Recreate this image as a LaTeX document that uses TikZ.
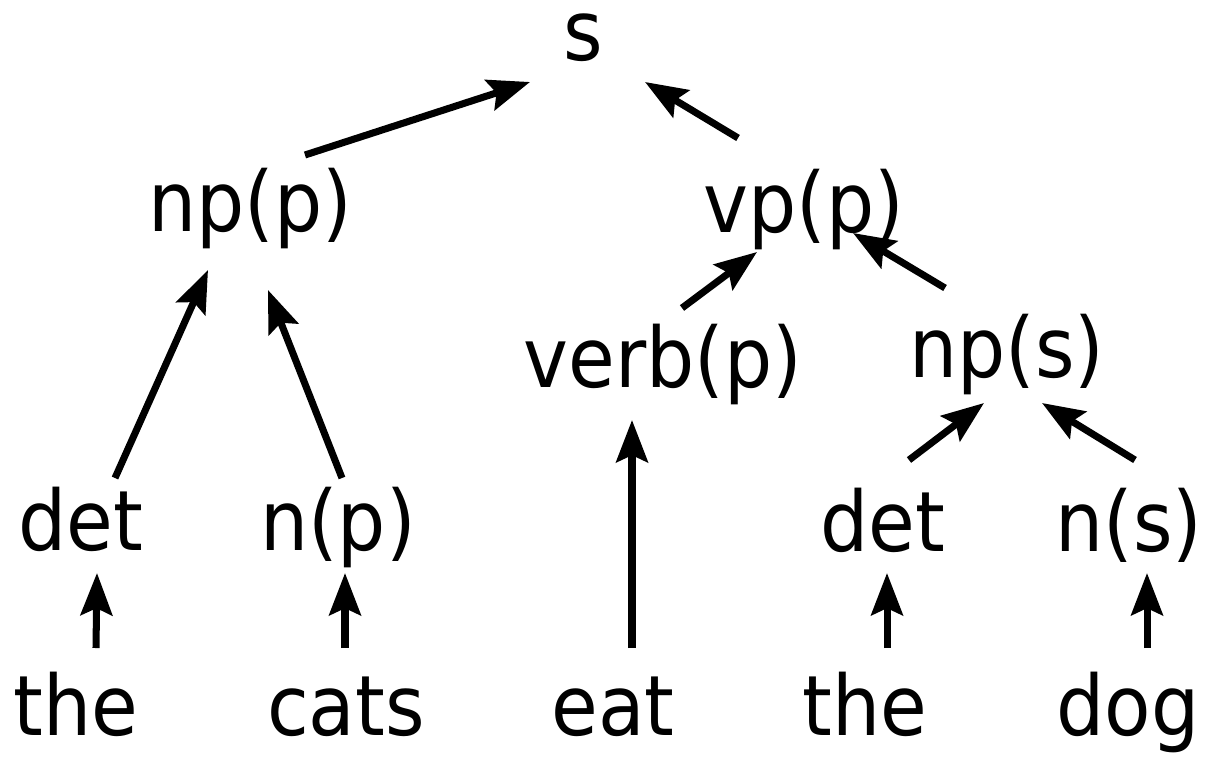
\documentclass[tikz,border=0pt]{standalone}
\usepackage{fontspec}
\setmainfont{DejaVu Sans}[FakeStretch=0.91]
\usetikzlibrary{arrows.meta,calc}

\tikzset{
  word/.style={inner sep=0pt, anchor=base, font=\fontsize{47.5pt}{57pt}\selectfont},
  arr/.style={-{Stealth[length=24pt,width=18pt,inset=4pt]}, line width=4pt}
}

\begin{document}
\begin{tikzpicture}[x=0.02cm,y=-0.02cm]
  \useasboundingbox (0,0) rectangle (1216,764);
  % Phrase labels
  \node[word] (s) at (583,60) {s};
  \node[word] (npp) at (250,231) {np(p)};
  \node[word] (vpp) at (804,232) {vp(p)};
  \node[word] (verbp) at (663,387) {verb(p)};
  \node[word] (nps) at (1007,377) {np(s)};
  % Categories
  \node[word] (deta) at (81,550) {det};
  \node[word] (np) at (338,550) {n(p)};
  \node[word] (detb) at (883,551) {det};
  \node[word] (ns) at (1129,551) {n(s)};
  % Words
  \node[word] (thea) at (76,735) {the};
  \node[word] (cats) at (346,735) {cats};
  \node[word] (eat) at (613,735) {eat};
  \node[word] (theb) at (865,735) {the};
  \node[word] (dog) at (1128,735) {dog};
  % Upper arrows
  \draw[arr] ($(npp.base)+(55,-76)$) -- ($(s.base)+(-53,22)$);
  \draw[arr] ($(vpp.base)+(-66,-94)$) -- ($(s.base)+(62,22)$);
  \draw[arr] ($(deta.base)+(34,-72)$) -- ($(npp.base)+(-42,39)$);
  \draw[arr] ($(np.base)+(4,-72)$) -- ($(npp.base)+(18,59)$);
  \draw[arr] ($(verbp.base)+(19,-79)$) -- ($(vpp.base)+(-47,20)$);
  \draw[arr] ($(nps.base)+(-62,-89)$) -- ($(vpp.base)+(49,1)$);
  \draw[arr] ($(eat.base)+(19,-87)$) -- ($(verbp.base)+(-31,33)$);
  \draw[arr] ($(detb.base)+(26,-91)$) -- ($(nps.base)+(-23,26)$);
  \draw[arr] ($(ns.base)+(6,-91)$) -- ($(nps.base)+(35,26)$);
  % Word arrows
  \draw[arr] ($(thea.base)+(20,-87)$) -- ($(deta.base)+(16,23)$);
  \draw[arr] ($(cats.base)+(-1,-87)$) -- ($(np.base)+(7,23)$);
  \draw[arr] ($(theb.base)+(22,-87)$) -- ($(detb.base)+(4,22)$);
  \draw[arr] ($(dog.base)+(19,-87)$) -- ($(ns.base)+(18,22)$);
\end{tikzpicture}
\end{document}
